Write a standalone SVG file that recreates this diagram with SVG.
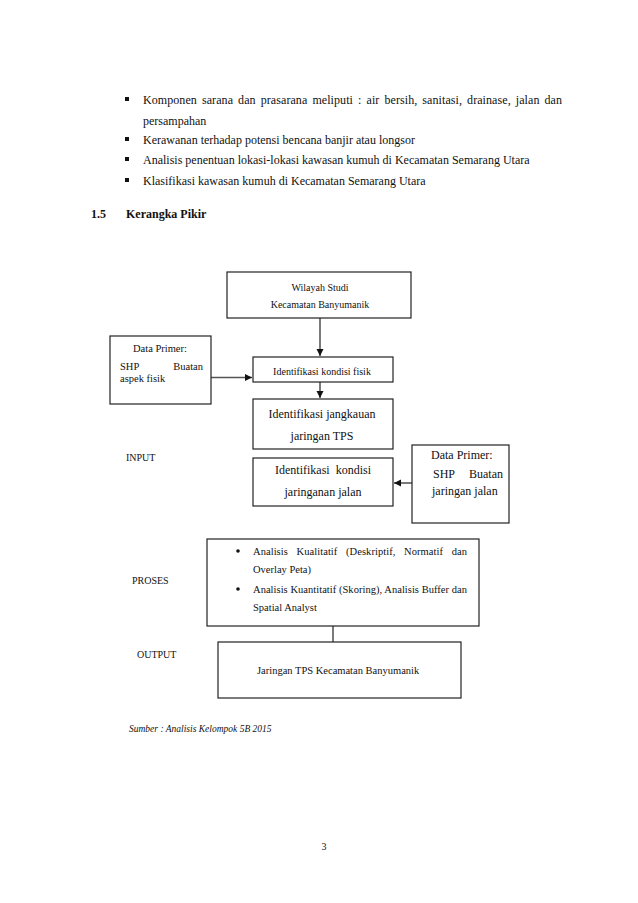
<svg xmlns="http://www.w3.org/2000/svg" width="638" height="903" viewBox="0 0 638 903">
<defs>
<style>
text{font-family:"Liberation Serif","Times New Roman",serif;fill:#111}
.b{font-size:12px}
.d{font-size:10px}
.m{font-size:12px}
.box{fill:#fff;stroke:#222;stroke-width:1.2}
.ln{stroke:#222;stroke-width:1.2;fill:none}
</style>
<marker id="ah" markerWidth="8" markerHeight="8" refX="7" refY="4" orient="auto" markerUnits="userSpaceOnUse">
<path d="M0,0.5 L7,4 L0,7.5 Z" fill="#111"/>
</marker>
</defs>
<rect width="638" height="903" fill="#fff"/>

<g id="bullets">
<rect x="125" y="97" width="4" height="4" fill="#111"/>
<text class="b" x="143" y="104" textLength="419" lengthAdjust="spacing" word-spacing="2">Komponen sarana dan prasarana meliputi : air bersih, sanitasi, drainase, jalan dan</text>
<text class="b" x="143" y="125">persampahan</text>
<rect x="125" y="137" width="4" height="4" fill="#111"/>
<text class="b" x="143" y="144">Kerawanan terhadap potensi bencana banjir  atau longsor</text>
<rect x="125" y="157" width="4" height="4" fill="#111"/>
<text class="b" x="143" y="164">Analisis penentuan lokasi-lokasi kawasan kumuh di Kecamatan Semarang Utara</text>
<rect x="125" y="178" width="4" height="4" fill="#111"/>
<text class="b" x="143" y="185">Klasifikasi kawasan kumuh di Kecamatan Semarang Utara</text>
<text class="b" x="91" y="218" font-weight="bold">1.5</text>
<text class="b" x="126" y="218" font-weight="bold">Kerangka Pikir</text>
</g>

<g id="connectors">
<line class="ln" x1="320" y1="318" x2="320" y2="356" marker-end="url(#ah)"/>
<line x1="211" y1="377.5" x2="252" y2="377.5" stroke="#555" stroke-width="1.6" marker-end="url(#ah)"/>
<line class="ln" x1="320" y1="382" x2="320" y2="398" marker-end="url(#ah)"/>
<line class="ln" x1="412" y1="483" x2="394" y2="483" marker-end="url(#ah)"/>
<line class="ln" x1="333" y1="626" x2="333" y2="642"/>
</g>

<g id="wilayah">
<rect class="box" x="227" y="272" width="184" height="46"/>
<text class="d" x="320" y="291" text-anchor="middle">Wilayah Studi</text>
<text class="d" x="320" y="308" text-anchor="middle">Kecamatan Banyumanik</text>
</g>

<g id="dataprimer1">
<rect class="box" x="110" y="336" width="101" height="68"/>
<text x="133" y="352" font-size="10.5">Data Primer:</text>
<text x="120" y="370" font-size="10.5">SHP</text>
<text x="203" y="370" font-size="10.5" text-anchor="end">Buatan</text>
<text x="120" y="382" font-size="10.5">aspek fisik</text>
</g>

<g id="kondisifisik">
<rect class="box" x="253" y="357" width="140" height="25"/>
<text class="d" x="322" y="375" text-anchor="middle">Identifikasi kondisi fisik</text>
</g>

<g id="jangkauan">
<rect class="box" x="253" y="399" width="140" height="50"/>
<text class="m" x="322" y="418" text-anchor="middle">Identifikasi jangkauan</text>
<text class="m" x="322" y="440" text-anchor="middle">jaringan TPS</text>
</g>

<g id="input-label">
<text class="d" x="126" y="461">INPUT</text>
</g>

<g id="jalan">
<rect class="box" x="253" y="458" width="140" height="48"/>
<text class="m" x="323" y="474" text-anchor="middle" xml:space="preserve">Identifikasi  kondisi</text>
<text class="m" x="323" y="496" text-anchor="middle">jaringanan jalan</text>
</g>

<g id="dataprimer2">
<rect class="box" x="412" y="445" width="97" height="78"/>
<text class="m" x="431" y="459">Data Primer:</text>
<text class="m" x="433" y="478">SHP</text>
<text class="m" x="503" y="478" text-anchor="end">Buatan</text>
<text class="m" x="432" y="495">jaringan jalan</text>
</g>

<g id="proses">
<rect class="box" x="207" y="539" width="272" height="87"/>
<circle cx="238" cy="551" r="1.8" fill="#111"/>
<text x="253" y="555" font-size="10.5" textLength="214" lengthAdjust="spacing" word-spacing="6">Analisis Kualitatif (Deskriptif, Normatif dan</text>
<text x="253" y="573" font-size="10.5">Overlay Peta)</text>
<circle cx="238" cy="589" r="1.8" fill="#111"/>
<text x="253" y="593" font-size="10.5" textLength="214" lengthAdjust="spacing">Analisis Kuantitatif (Skoring), Analisis Buffer dan</text>
<text x="253" y="611" font-size="10.5">Spatial Analyst</text>
</g>

<g id="proses-label">
<text class="d" x="132" y="584">PROSES</text>
</g>

<g id="output-label">
<text class="d" x="137" y="658">OUTPUT</text>
</g>

<g id="output">
<rect class="box" x="218" y="642" width="243" height="56"/>
<text x="257" y="674" font-size="10.5">Jaringan TPS Kecamatan Banyumanik</text>
</g>

<g id="footer">
<text x="129" y="732" font-size="9.5" font-style="italic">Sumber : Analisis Kelompok 5B 2015</text>
<text class="d" x="324" y="850" text-anchor="middle">3</text>
</g>
</svg>
